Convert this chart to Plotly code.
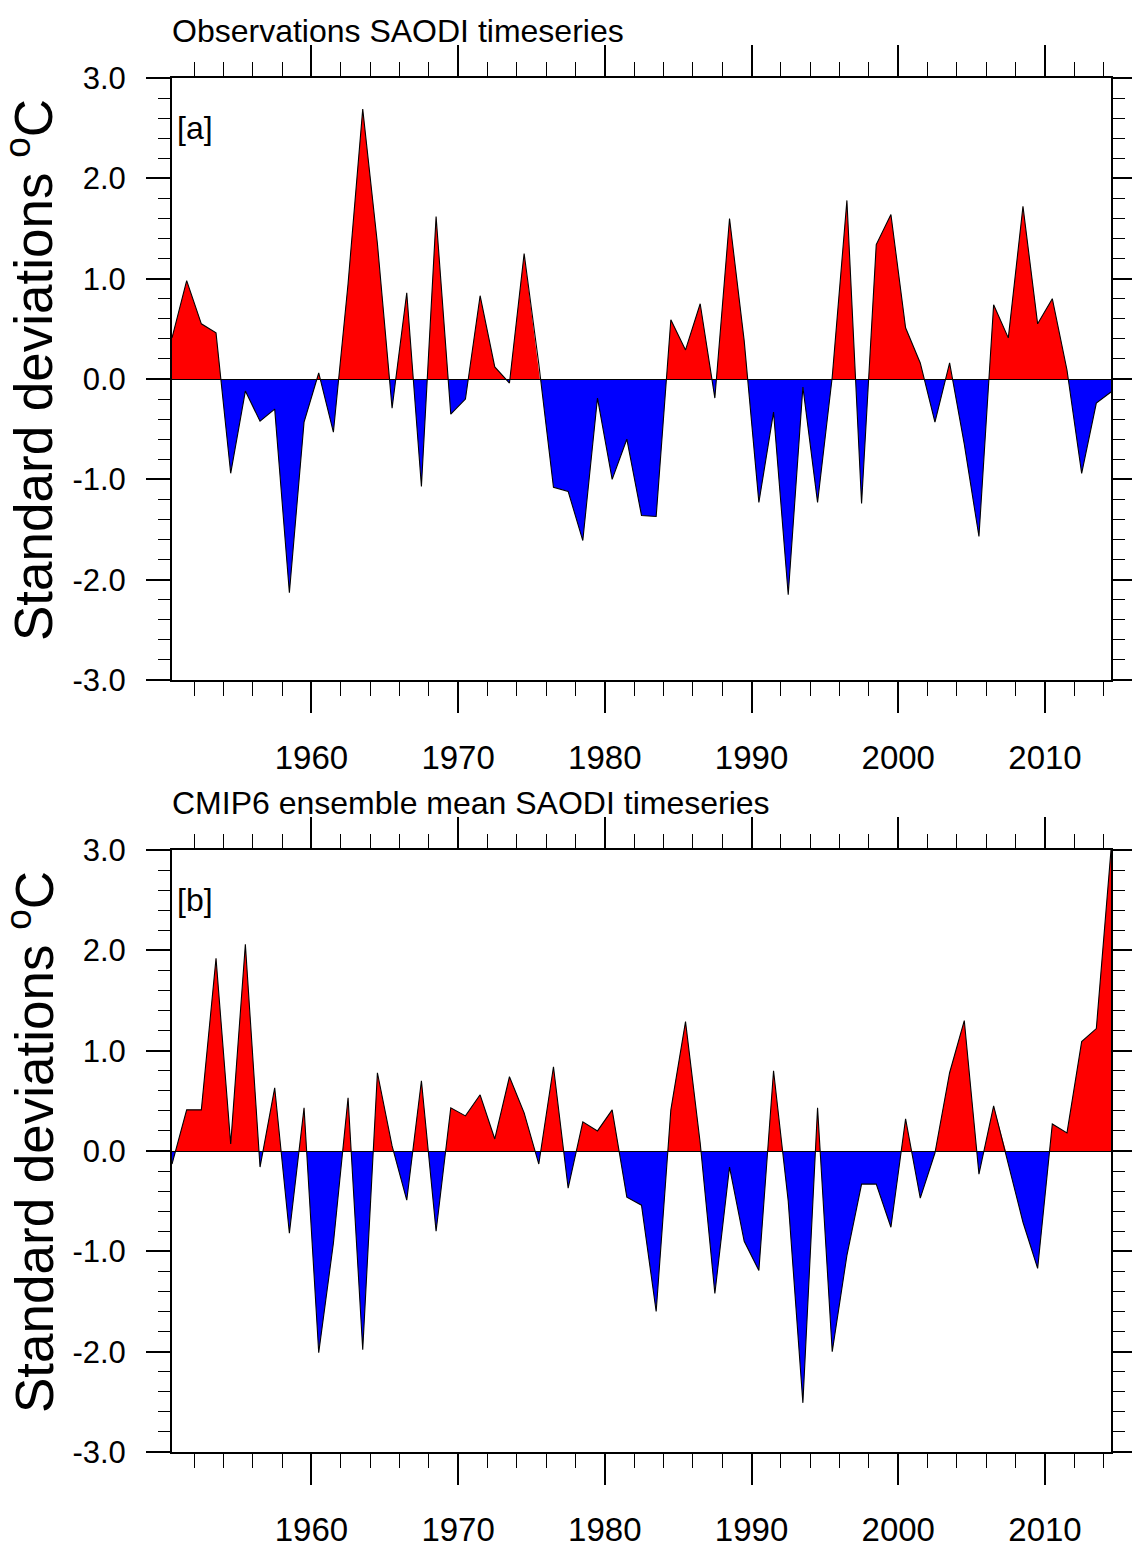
import numpy as np
import plotly.graph_objects as go

# ---------------- data ----------------
years = list(range(1950, 2015))

obs_saodi = [
    0.41, 0.98, 0.55, 0.46, -0.94, -0.12, -0.42, -0.30, -2.13, -0.43,
    0.06, -0.53, 0.95, 2.69, 1.35, -0.29, 0.86, -1.07, 1.62, -0.35,
    -0.20, 0.83, 0.12, -0.04, 1.25, 0.15, -1.08, -1.12, -1.61, -0.19,
    -1.00, -0.60, -1.36, -1.37, 0.59, 0.29, 0.75, -0.19, 1.60, 0.38,
    -1.23, -0.33, -2.15, -0.08, -1.23, 0.02, 1.78, -1.24, 1.34, 1.64,
    0.51, 0.16, -0.43, 0.16, -0.65, -1.57, 0.74, 0.41, 1.72, 0.55,
    0.80, 0.09, -0.94, -0.24, -0.13,
]

cmip6_saodi = [
    -0.13, 0.41, 0.41, 1.92, 0.07, 2.06, -0.16, 0.63, -0.82, 0.43,
    -2.01, -0.92, 0.53, -1.98, 0.78, 0.05, -0.49, 0.70, -0.80, 0.43,
    0.35, 0.56, 0.12, 0.74, 0.38, -0.13, 0.84, -0.37, 0.29, 0.20,
    0.41, -0.46, -0.54, -1.60, 0.41, 1.29, 0.08, -1.42, -0.16, -0.90,
    -1.19, 0.80, -0.50, -2.51, 0.43, -2.00, -1.04, -0.33, -0.33, -0.76,
    0.32, -0.47, -0.02, 0.78, 1.30, -0.23, 0.45, -0.12, -0.71, -1.17,
    0.27, 0.18, 1.09, 1.22, 3.00,
]

titles = ["Observations SAODI timeseries", "CMIP6 ensemble mean SAODI timeseries"]
panel_tags = ["[a]", "[b]"]
ytitle = "Standard deviations <sup>o</sup>C"

x_tickvals = [1960, 1970, 1980, 1990, 2000, 2010]
x_ticktext = ["1960", "1970", "1980", "1990", "2000", "2010"]
y_tickvals = [-3, -2, -1, 0, 1, 2, 3]
y_ticktext = ["-3.0", "-2.0", "-1.0", "0.0", "1.0", "2.0", "3.0"]

# mid-year time coordinate
time = np.array(years) + 0.5

# ---------------- layout geometry ----------------
W, H = 1132, 1546
def px(v):
    return v / W
def py(v):
    return 1 - v / H

xdom = [px(172), px(1111)]
panels = [
    dict(top=78, bot=680),
    dict(top=850, bot=1452),
]

FONT = "Liberation Sans, Arial, Helvetica, sans-serif"

fig = go.Figure()
layout = dict(
    template="none",
    width=W, height=H,
    margin=dict(l=0, r=0, t=0, b=0, autoexpand=False),
    paper_bgcolor="white", plot_bgcolor="rgba(0,0,0,0)",
    showlegend=False,
    annotations=[],
)

series = [obs_saodi, cmip6_saodi]
for p, (vals, geo) in enumerate(zip(series, panels)):
    xa = "x" if p == 0 else "x2"
    yu = f"y{3*p+1}" if p > 0 else "y"
    yl = f"y{3*p+2}"
    ym = f"y{3*p+3}"
    mid = (geo["top"] + geo["bot"]) / 2.0

    # positive fill (clipped to the upper half subplot)
    fig.add_trace(go.Scatter(x=time, y=vals, xaxis=xa, yaxis=yu, mode="lines",
                             line=dict(width=0, color="#ff0000"), fill="tozeroy",
                             fillcolor="#ff0000", hoverinfo="skip"))
    # negative fill (clipped to the lower half subplot)
    fig.add_trace(go.Scatter(x=time, y=vals, xaxis=xa, yaxis=yl, mode="lines",
                             line=dict(width=0, color="#0000ff"), fill="tozeroy",
                             fillcolor="#0000ff", hoverinfo="skip"))
    # outline
    fig.add_trace(go.Scatter(x=time, y=vals, xaxis=xa, yaxis=ym, mode="lines",
                             line=dict(width=1.1, color="black"), hoverinfo="skip"))

    xkey = "xaxis" if p == 0 else "xaxis2"
    layout[xkey] = dict(
        domain=xdom, range=[1950.5, 2014.5], anchor=ym, automargin=False,
        tickmode="array", tickvals=x_tickvals, ticktext=x_ticktext,
        ticks="outside", ticklen=31, tickwidth=1.5, tickcolor="black",
        minor=dict(tickmode="linear", tick0=1950, dtick=2, ticks="outside",
                   ticklen=14, tickwidth=1, tickcolor="black", showgrid=False),
        showline=True, linecolor="black", linewidth=2, mirror="ticks",
        showgrid=False, zeroline=False,
        tickfont=dict(family=FONT, size=33, color="black"),
        ticklabelstandoff=16,
    )
    ukey = "yaxis" if p == 0 else f"yaxis{3*p+1}"
    layout[ukey] = dict(domain=[py(mid), py(geo["top"])], range=[0, 3], anchor=xa,
                        visible=False, showgrid=False, zeroline=False, automargin=False)
    layout[f"yaxis{3*p+2}"] = dict(domain=[py(geo["bot"]), py(mid)], range=[-3, 0], anchor=xa,
                                   visible=False, showgrid=False, zeroline=False, automargin=False)
    layout[f"yaxis{3*p+3}"] = dict(
        domain=[py(geo["bot"]), py(geo["top"])], range=[-3, 3], anchor=xa, automargin=False,
        tickmode="array", tickvals=y_tickvals, ticktext=y_ticktext,
        ticks="outside", ticklen=24, tickwidth=1.5, tickcolor="black",
        minor=dict(tickmode="linear", tick0=0, dtick=0.2, ticks="outside",
                   ticklen=12, tickwidth=1, tickcolor="black", showgrid=False),
        showline=True, linecolor="black", linewidth=2, mirror="ticks",
        showgrid=False, zeroline=True, zerolinecolor="black", zerolinewidth=1,
        tickfont=dict(family=FONT, size=31, color="black"),
        ticklabelstandoff=14,
    )

    # panel title
    layout["annotations"].append(dict(
        text=titles[p], xref="paper", yref="paper", x=px(170), y=py(geo["top"] - 47),
        xanchor="left", yanchor="middle", showarrow=False,
        font=dict(family=FONT, size=32, color="black")))
    # panel tag
    layout["annotations"].append(dict(
        text=panel_tags[p], xref="paper", yref="paper", x=px(175), y=py(geo["top"] + 50),
        xanchor="left", yanchor="middle", showarrow=False,
        font=dict(family=FONT, size=32, color="black")))
    # y title
    layout["annotations"].append(dict(
        text=ytitle, xref="paper", yref="paper", x=px(30), y=py(geo["top"] + 292),
        xanchor="center", yanchor="middle", textangle=-90, showarrow=False,
        font=dict(family=FONT, size=53, color="black")))

fig.update_layout(**layout)
fig.write_html("out.html")
